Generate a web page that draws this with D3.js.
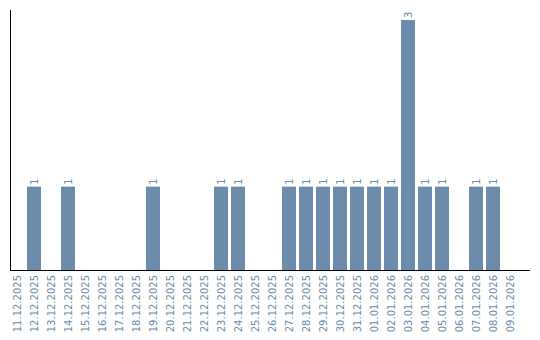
<!DOCTYPE html>
<html>
<head>
<meta charset="utf-8">
<script src="https://cdn.jsdelivr.net/npm/d3@7"></script>
<style>
  body { margin: 0; background: #fff; }
  text { font-family: "DejaVu Sans", sans-serif; }
</style>
</head>
<body>
<script>
// chart values
const dates = [
  '11.12.2025', '12.12.2025', '13.12.2025', '14.12.2025', '15.12.2025',
  '16.12.2025', '17.12.2025', '18.12.2025', '19.12.2025', '20.12.2025',
  '21.12.2025', '22.12.2025', '23.12.2025', '24.12.2025', '25.12.2025',
  '26.12.2025', '27.12.2025', '28.12.2025', '29.12.2025', '30.12.2025',
  '31.12.2025', '01.01.2026', '02.01.2026', '03.01.2026', '04.01.2026',
  '05.01.2026', '06.01.2026', '07.01.2026', '08.01.2026', '09.01.2026'
];
const counts = [
  0, 1, 0, 1, 0,
  0, 0, 0, 1, 0,
  0, 0, 1, 1, 0,
  0, 1, 1, 1, 1,
  1, 1, 1, 3, 1,
  1, 0, 1, 1, 0
];

const w = 540;
const h = 340;
const color = '#6b8cab';

let dataset = dates.map((d, i) => ({ date: d, count: counts[i] }));

let svg = d3.select('body').append('svg').attr('width', w).attr('height', h);

let x = d3
  .scaleBand()
  .domain(dates)
  .range([10, 517])
  .paddingInner(3 / 17)
  .paddingOuter(0);

let y = d3.scaleLinear().domain([0, 3.12]).range([270, 10]);

// bars
svg
  .selectAll('rect.bar')
  .data(dataset.filter((d) => d.count > 0))
  .enter()
  .append('rect')
  .attr('class', 'bar')
  .attr('x', (d) => x(d.date))
  .attr('y', (d) => y(d.count))
  .attr('width', x.bandwidth())
  .attr('height', (d) => y(0) - y(d.count))
  .attr('fill', color);

// value labels, rotated
svg
  .selectAll('text.val')
  .data(dataset.filter((d) => d.count > 0))
  .enter()
  .append('text')
  .attr('class', 'val')
  .attr(
    'transform',
    (d) =>
      'translate(' + (x(d.date) + x.bandwidth() / 2) + ',' + (y(d.count) - 2) + ') rotate(-90)'
  )
  .attr('dy', '0.35em')
  .attr('text-anchor', 'start')
  .attr('font-size', 10)
  .attr('fill', color)
  .text((d) => d.count);

// x axis
let xAxis = svg
  .append('g')
  .attr('transform', 'translate(0,270)')
  .call(d3.axisBottom(x).tickSize(0).tickPadding(0));
xAxis.select('.domain').remove();
xAxis
  .append('line')
  .attr('x1', 10)
  .attr('x2', 530)
  .attr('y1', 0.5)
  .attr('y2', 0.5)
  .attr('stroke', '#000');
xAxis
  .selectAll('.tick text')
  .attr('transform', 'rotate(-90)')
  .attr('text-anchor', 'end')
  .attr('x', -5)
  .attr('y', 0)
  .attr('dy', '0.35em')
  .attr('font-size', 10)
  .attr('font-family', '"DejaVu Sans", sans-serif')
  .attr('fill', color);

// y axis line only
svg
  .append('line')
  .attr('x1', 10.5)
  .attr('x2', 10.5)
  .attr('y1', 10)
  .attr('y2', 270)
  .attr('stroke', '#000');
</script>
</body>
</html>
